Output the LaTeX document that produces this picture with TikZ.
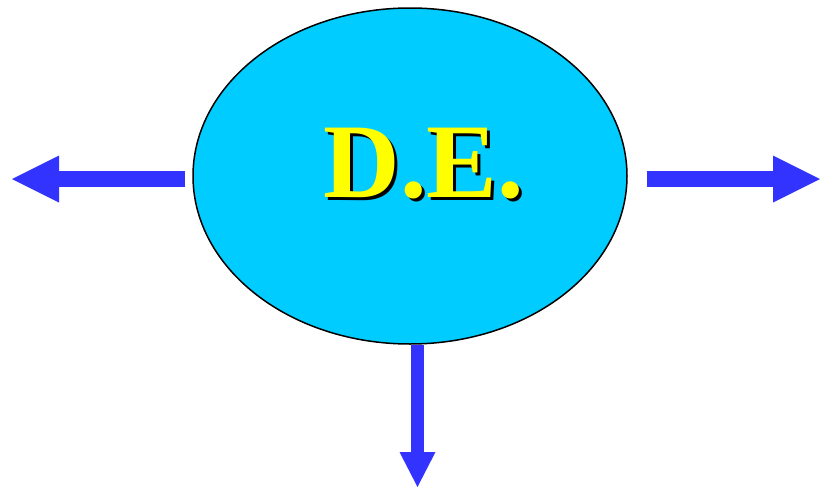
\documentclass[tikz,border=0pt]{standalone}
\usepackage{fontspec}
\usepackage{tikz}
\usetikzlibrary{arrows.meta,calc,positioning,shapes.geometric}
\newfontfamily\labelfont{Liberation Serif}
\definecolor{ovalcyan}{HTML}{00CCFF}
\definecolor{arrowblue}{HTML}{3333FF}
\definecolor{titleyellow}{HTML}{FFFF00}
\tikzset{
  ovalnode/.style={ellipse,draw=black,line width=1.5pt,fill=ovalcyan,minimum width=434pt,minimum height=336pt,inner sep=0pt},
  bigarrow/.style={line width=16pt,arrowblue,-{Triangle[length=47pt,width=47pt,line width=0pt]}},
  smallarrow/.style={line width=13.5pt,arrowblue,-{Triangle[length=35pt,width=36pt,line width=0pt]}},
  titletext/.style={inner sep=0pt,font=\labelfont\bfseries\fontsize{106}{110}\selectfont}
}

\begin{document}
\begin{tikzpicture}[x=1pt,y=-1pt]
  \useasboundingbox (0,0) rectangle (820,493);
  \node[ovalnode] (de) at (410,176) {};
  % title with its shadow
  \node[titletext,text=black] (deshadow) at (427,167) {D.E.};
  \node[titletext,text=titleyellow] (detext) at (424,164) {D.E.};
  \coordinate (lefttip) at (12,179);
  \coordinate (righttip) at (820,179);
  \coordinate (downtip) at (417.5,487);
  \draw[bigarrow] ([xshift=-7pt]de.west |- lefttip) -- (lefttip);
  \draw[bigarrow] ([xshift=19pt]de.east |- righttip) -- (righttip);
  \draw[smallarrow] (downtip |- de.south) -- (downtip);
\end{tikzpicture}
\end{document}
